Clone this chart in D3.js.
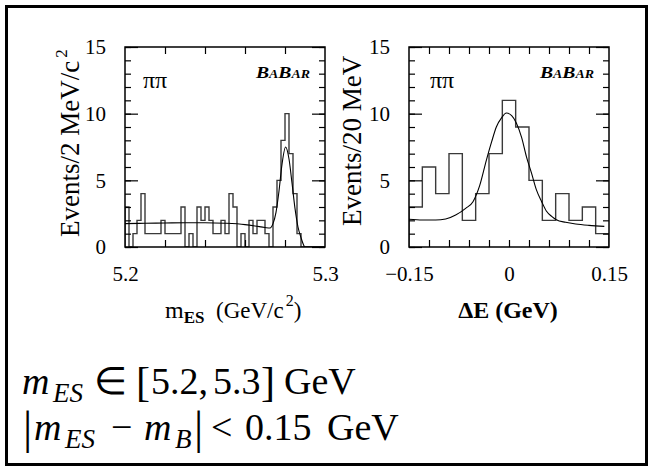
<!DOCTYPE html>
<html>
<head>
<meta charset="utf-8">
<script src="https://cdn.jsdelivr.net/npm/d3@7"></script>
</head>
<body style="margin:0;background:#fff">
<svg id="fig" width="653" height="470"></svg>
<script>
// m_ES histogram: 2 MeV/c^2 bins from 5.200 to 5.300 GeV/c^2
const mesEdges = d3.range(0, 51).map(i => 5.2 + i * 0.002);
const mesCounts = [3,0,1,2,4,1,1,1,1,2,1,1,1,1,3,0,1,0,3,2,3,2,1,1,2,1,4,3,0,1,0,2,1,2,2,1,0,3,5,8,10,7,4,1,0,0,0,0,0,0];
// fitted m_ES shape (Gaussian on ARGUS background)
const mesFit = [[5.200,1.75],[5.210,1.78],[5.220,1.80],[5.230,1.82],[5.240,1.82],[5.250,1.78],[5.260,1.68],[5.265,1.58],[5.270,1.46],[5.2725,1.42],[5.274,1.75],[5.2755,2.6],[5.277,4.2],[5.2785,6.2],[5.2803,7.5],[5.282,6.6],[5.2835,4.8],[5.285,2.9],[5.2865,1.5],[5.288,0.7],[5.2893,0.15],[5.290,0.0],[5.300,0.0]];

// Delta E histogram: 20 MeV bins from -0.15 to 0.15 GeV
const deEdges = d3.range(0, 16).map(i => -0.15 + i * 0.02);
const deCounts = [3,6,4,7,2,4,7,11,9,5,2,4,2,3,1];
// fitted Delta E shape
const deFit = [[-0.150,2.08],[-0.130,2.02],[-0.110,2.02],[-0.095,2.1],[-0.080,2.4],[-0.065,2.9],[-0.054,3.4],[-0.044,4.6],[-0.034,6.5],[-0.026,7.9],[-0.019,9.0],[-0.011,9.7],[-0.004,10.05],[0.004,9.85],[0.011,9.3],[0.019,8.2],[0.026,6.8],[0.034,5.5],[0.041,4.3],[0.049,3.4],[0.056,2.7],[0.064,2.3],[0.071,2.05],[0.085,1.85],[0.100,1.72],[0.120,1.62],[0.143,1.55]];

const yTicksMajor = [0, 5, 10, 15];
const yTicksMinor = d3.range(0, 16);
const mesTicks = [5.22, 5.24, 5.26, 5.28];
const mesLabels = [5.2, 5.3];
const deTicks = [-0.12, -0.09, -0.06, -0.03, 0, 0.03, 0.06, 0.09, 0.12];
const deLabels = [-0.15, 0, 0.15];

const SERIF = '"Liberation Serif"';
const svg = d3.select("#fig");

// every text element gets the serif face explicitly
function txt(parent) {
  return parent.append("text").style("font-family", SERIF).attr("fill", "#000");
}

// outer border
svg.append("rect").attr("x", 6.5).attr("y", 6.5).attr("width", 640).attr("height", 458)
  .attr("fill", "none").attr("stroke", "#000").attr("stroke-width", 3);

function panel(opts) {
  const x = d3.scaleLinear().domain(opts.domain).range([opts.x0, opts.x0 + 200]);
  const y = d3.scaleLinear().domain([0, 15]).range([247, 47]);
  const g = svg.append("g");

  // histogram outline
  const pts = [[opts.edges[0], 0]];
  opts.counts.forEach((c, i) => { pts.push([opts.edges[i], c]); pts.push([opts.edges[i + 1], c]); });
  pts.push([opts.edges[opts.edges.length - 1], 0]);
  const clipId = "clip" + opts.x0;
  g.append("clipPath").attr("id", clipId).append("rect")
    .attr("x", opts.x0).attr("y", 47).attr("width", 200).attr("height", 200);
  g.append("path").datum(pts)
    .attr("clip-path", `url(#${clipId})`)
    .attr("d", d3.line().x(d => x(d[0])).y(d => y(d[1])))
    .attr("fill", "none").attr("stroke", "#3a3a3a").attr("stroke-width", 1.4);

  // fit curve
  g.append("path").datum(opts.fit)
    .attr("clip-path", `url(#${clipId})`)
    .attr("d", d3.line().x(d => x(d[0])).y(d => y(d[1])).curve(d3.curveMonotoneX))
    .attr("fill", "none").attr("stroke", "#000").attr("stroke-width", 1.1);

  const axStyle = sel => {
    sel.select(".domain").remove();
    sel.selectAll("line").attr("stroke", "#000").attr("stroke-width", 1.2);
    sel.selectAll("text").style("font-family", SERIF).style("font-size", "21px").attr("fill", "#000");
  };

  // y ticks, left and right sides, pointing inward
  g.append("g").attr("transform", `translate(${opts.x0},0)`)
    .call(d3.axisLeft(y).tickValues(yTicksMinor).tickSize(-6).tickFormat("")).call(axStyle);
  g.append("g").attr("transform", `translate(${opts.x0},0)`)
    .call(d3.axisLeft(y).tickValues(yTicksMajor).tickSize(-13).tickPadding(19).tickFormat(d3.format("d"))).call(axStyle);
  g.append("g").attr("transform", `translate(${opts.x0 + 200},0)`)
    .call(d3.axisRight(y).tickValues(yTicksMinor).tickSize(-6).tickFormat("")).call(axStyle);
  g.append("g").attr("transform", `translate(${opts.x0 + 200},0)`)
    .call(d3.axisRight(y).tickValues(yTicksMajor).tickSize(-13).tickFormat("")).call(axStyle);

  // x ticks, bottom and top
  g.append("g").attr("transform", "translate(0,247)")
    .call(d3.axisBottom(x).tickValues(opts.xticks).tickSize(-7).tickFormat("")).call(axStyle);
  g.append("g").attr("transform", "translate(0,47)")
    .call(d3.axisTop(x).tickValues(opts.xticks).tickSize(-7).tickFormat("")).call(axStyle);
  g.append("g").attr("transform", "translate(0,247)")
    .call(d3.axisBottom(x).tickValues(opts.xlabels).tickSize(0).tickPadding(19).tickFormat(opts.fmt)).call(axStyle);

  // frame
  g.append("rect").attr("x", opts.x0).attr("y", 47).attr("width", 200).attr("height", 200)
    .attr("fill", "none").attr("stroke", "#000").attr("stroke-width", 1.5);

  // pi pi label
  txt(g).attr("x", opts.x0 + opts.piDx).attr("y", 88).style("font-size", "24px").text("ππ");

  // BaBar logo: wide bold-italic small caps
  const logo = txt(g).attr("x", opts.x0 + 131).attr("y", 78)
    .style("font-weight", "bold").style("font-style", "italic").style("font-size", "17px")
    .attr("textLength", 54).attr("lengthAdjust", "spacingAndGlyphs");
  logo.append("tspan").text("B");
  logo.append("tspan").style("font-size", "12px").text("A");
  logo.append("tspan").text("B");
  logo.append("tspan").style("font-size", "12px").text("AR");

  return { x, y, g };
}

panel({ x0: 125, domain: [5.2, 5.3], edges: mesEdges, counts: mesCounts, fit: mesFit,
  xticks: mesTicks, xlabels: mesLabels, fmt: d3.format(".1f"), piDx: 18 });
panel({ x0: 409, domain: [-0.15, 0.15], edges: deEdges, counts: deCounts, fit: deFit,
  xticks: deTicks, xlabels: deLabels, piDx: 21,
  fmt: d => d === 0 ? "0" : d3.format(".2f")(d).replace("-", "\u2013") });

// y axis titles
const lt = txt(svg).attr("transform", "translate(79,237) rotate(-90)").style("font-size", "27px");
lt.append("tspan").text("Events/2 MeV/c");
lt.append("tspan").style("font-size", "17px").attr("dy", -12).attr("dx", 3).text("2");

txt(svg).attr("transform", "translate(361,226) rotate(-90)").style("font-size", "27px").text("Events/20 MeV");

// x axis titles
const mt = txt(svg).attr("x", 165).attr("y", 318).style("font-size", "23px");
mt.append("tspan").style("font-size", "24px").text("m");
mt.append("tspan").style("font-size", "17px").style("font-weight", "bold").attr("dy", 5).text("ES");
mt.append("tspan").attr("dy", -5).text("\u2002(GeV/c");
mt.append("tspan").style("font-size", "16px").attr("dy", -12).attr("dx", 2).text("2");
mt.append("tspan").attr("dy", 12).text(")");

txt(svg).attr("x", 508).attr("y", 318).attr("text-anchor", "middle")
  .style("font-size", "24px").style("font-weight", "bold").text("ΔE (GeV)");

// selection ranges, set piece by piece like typeset math
const b1 = 394, b2 = 440;
function piece(x, y, s, size, italic) {
  const t = txt(svg).attr("x", x).attr("y", y).style("font-size", size + "px").text(s);
  if (italic) t.style("font-style", "italic");
  return t;
}
piece(22, b1, "m", 38, true);
piece(53, b1 + 8, "ES", 27, true);
piece(94, b1, "∈", 38);
piece(136, b1 + 2, "[", 42);
piece(151, b1, "5.2,", 38);
piece(213, b1, "5.3", 38);
piece(261, b1 + 2, "]", 42);
piece(284, b1, "GeV", 38);

piece(23, b2 + 3, "|", 46);
piece(34, b2, "m", 38, true);
piece(65, b2 + 8, "ES", 27, true);
piece(111, b2, "−", 38);
piece(144, b2, "m", 38, true);
piece(175, b2 + 8, "B", 27, true);
piece(194, b2 + 3, "|", 46);
piece(211, b2, "<", 38);
piece(245, b2, "0.15", 38);
piece(327, b2, "GeV", 38);
</script>
</body>
</html>
